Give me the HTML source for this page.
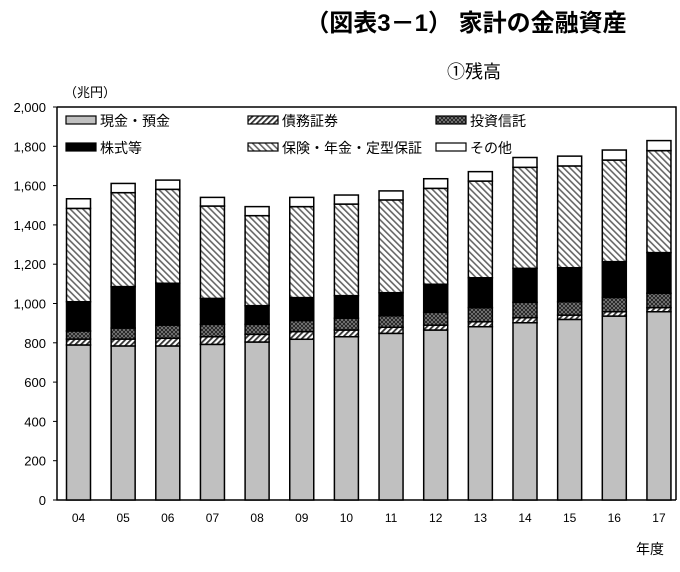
<!DOCTYPE html>
<html><head><meta charset="utf-8">
<style>
body{margin:0;background:#fff;}
svg{display:block;font-family:"Liberation Sans","Noto Sans CJK JP",sans-serif;}
</style></head>
<body>
<svg id="chart" width="680" height="572" viewBox="0 0 680 572" xmlns="http://www.w3.org/2000/svg">
<defs>
<pattern id="pBond" patternUnits="userSpaceOnUse" width="4" height="4" patternTransform="rotate(45)">
<rect width="4" height="4" fill="#fff"/><rect width="1.8" height="4" fill="#333"/></pattern>
<pattern id="pTrust" patternUnits="userSpaceOnUse" width="4" height="4">
<rect width="4" height="4" fill="#888"/><path d="M0 0L4 4M4 0L0 4" stroke="#222" stroke-width="1"/></pattern>
<pattern id="pIns" patternUnits="userSpaceOnUse" width="4.5" height="4.5" patternTransform="rotate(-45)">
<rect width="4.5" height="4.5" fill="#fff"/><rect width="1.6" height="4.5" fill="#666"/></pattern>
</defs>
<text x="466" y="31" text-anchor="middle" font-size="24" font-weight="bold">（図表3－1） 家計の金融資産</text>
<text x="474" y="78" text-anchor="middle" font-size="18">①残高</text>
<text x="64" y="97" font-size="13">（兆円）</text>
<g id="axes"></g>
<g id="bars"></g>
<g id="legend"></g>
<text x="664" y="554" text-anchor="end" font-size="14">年度</text>
</svg>
<script>
const categories=["04","05","06","07","08","09","10","11","12","13","14","15","16","17"];
const cash=[789,784,784,792,804,818,831,848,865,882,902,919,936,958];
const bonds=[30,35,39,39,39,39,34,31,25,25,26,22,22,21];
const trusts=[41,56,67,63,51,56,60,59,65,72,78,68,73,73];
const stocks=[149,211,213,132,95,117,115,117,143,152,173,173,182,207];
const insurance=[475,478,478,470,458,463,466,472,488,492,514,518,517,519];
const other=[49,47,47,44,46,47,46,46,49,48,50,50,51,51];
const yTicks=[0,200,400,600,800,1000,1200,1400,1600,1800,2000];
const seriesNames=["現金・預金","債務証券","投資信託","株式等","保険・年金・定型保証","その他"];

const NS="http://www.w3.org/2000/svg";
const X0=57,X1=676,Y0=500,Y1=107,band=44.65,barW=24;
const yMax=2000;
function y(v){return Y0-(v/yMax)*(Y0-Y1);}
function xc(i){return X0+21.5+i*band;}
function mk(tag,attrs,parent){const e=document.createElementNS(NS,tag);for(const k in attrs)e.setAttribute(k,attrs[k]);parent.appendChild(e);return e;}

const axes=document.getElementById('axes');
const frame=mk('path',{d:`M${X0} ${Y1}H${X1}V${Y0}M${X0} ${Y1}V${Y0}H${X1}`,fill:'none',stroke:'#000','stroke-width':1.5},axes);


yTicks.forEach(t=>{
  const tk=mk('line',{x1:X0-4,x2:X0,y1:y(t),y2:y(t),stroke:'#000'},axes);
  
  
  const lb=mk('text',{x:X0-11,y:y(t)+5,'text-anchor':'end','font-size':13},axes);
  lb.textContent=t.toLocaleString('en-US');
  
  
});
categories.forEach((c,i)=>{
  const lb=mk('text',{x:xc(i),y:522,'text-anchor':'middle','font-size':12},axes);
  lb.textContent=c;
  
  
});

const fills=["#c0c0c0","url(#pBond)","url(#pTrust)","#000","url(#pIns)","#fff"];
const series=[cash,bonds,trusts,stocks,insurance,other];
const segNames=["cash-deposits","debt-securities","investment-trusts","equities","insurance-pension","other"];
const bars=document.getElementById('bars');
categories.forEach((c,i)=>{
  let base=0;
  series.forEach((s,k)=>{
    const top=base+s[i];
    const r=mk('rect',{x:xc(i)-barW/2,y:y(top),width:barW,height:y(base)-y(top),fill:fills[k],stroke:'#000','stroke-width':1.5},bars);
    
    
    base=top;
  });
});

const legend=document.getElementById('legend');
const lpos=[[66,120],[248,120],[436,120],[66,147],[248,147],[436,147]];
seriesNames.forEach((n,k)=>{
  const [lx,ly]=lpos[k];
  const g=mk('g',{},legend);
  
  
  mk('rect',{x:lx,y:ly-4,width:30,height:8,fill:fills[k],stroke:'#000','stroke-width':1.2},g);
  const t=mk('text',{x:lx+34,y:ly+6,'font-size':14},g);
  t.textContent=n;
});
</script>
</body></html>
